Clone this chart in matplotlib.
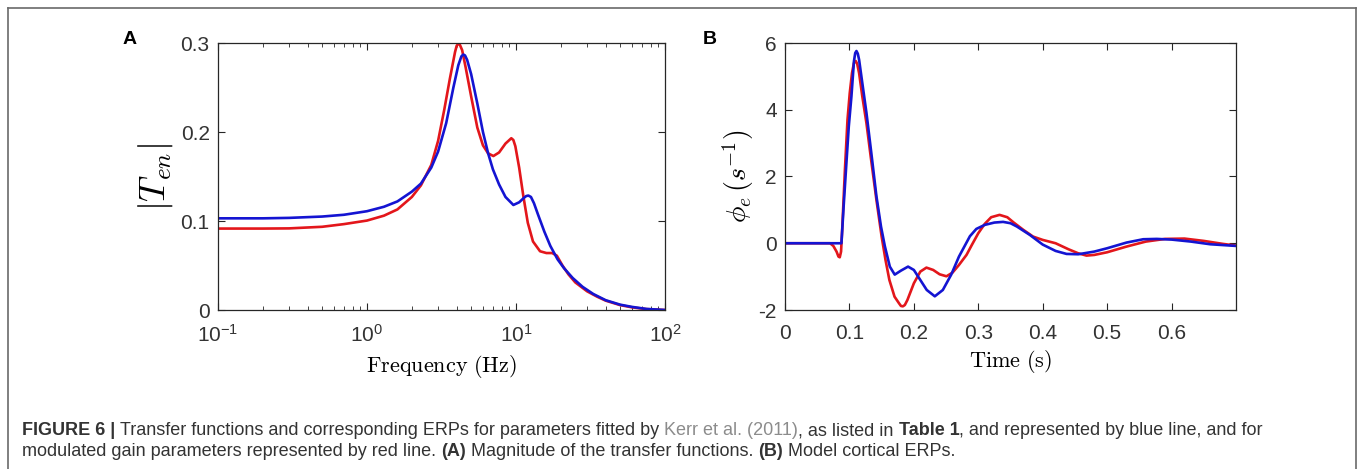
import matplotlib
matplotlib.use("Agg")
import matplotlib.pyplot as plt
from matplotlib.lines import Line2D

plt.rcParams["font.family"] = ["Liberation Sans", "DejaVu Sans"]
plt.rcParams["mathtext.fontset"] = "cm"
plt.rcParams["axes.unicode_minus"] = False

# panel A: magnitude of transfer function |T_en| vs frequency (Hz)
freq_red = [0.1, 0.2, 0.3, 0.5, 0.7, 1.0, 1.3, 1.6, 2.0, 2.3, 2.7, 3.0, 3.3, 3.6, 3.9,
            4.0, 4.1, 4.2, 4.35, 4.6, 5.0, 5.5, 6.0, 6.5, 7.05, 7.7, 8.5, 9.3, 9.6, 9.9,
            10.5, 11.2, 12.0, 13.0, 14.5, 16.0, 17.5, 18.8, 20.5, 22.5, 25, 30, 35, 40,
            50, 60, 75, 100]
mag_red = [0.0915, 0.0915, 0.0917, 0.0935, 0.0965, 0.1005, 0.106, 0.113, 0.127, 0.140,
           0.163, 0.19, 0.225, 0.26, 0.29, 0.297, 0.299, 0.298, 0.292, 0.272, 0.24,
           0.205, 0.185, 0.176, 0.173, 0.177, 0.187, 0.193, 0.191, 0.184, 0.16, 0.128,
           0.098, 0.077, 0.066, 0.064, 0.064, 0.061, 0.05, 0.04, 0.031, 0.021, 0.015,
           0.0105, 0.0055, 0.003, 0.001, 0.0]
freq_blue = [0.1, 0.2, 0.3, 0.5, 0.7, 1.0, 1.3, 1.6, 2.0, 2.3, 2.7, 3.0, 3.4, 3.8, 4.1,
             4.3, 4.43, 4.55, 4.7, 5.0, 5.5, 6.0, 6.5, 7.0, 7.7, 8.5, 9.6, 10.5, 11.3,
             11.7, 12.1, 12.6, 13.2, 14.0, 15.5, 17.0, 19.0, 21.0, 24, 28, 33, 40, 50,
             60, 75, 100]
mag_blue = [0.103, 0.103, 0.1035, 0.105, 0.107, 0.111, 0.116, 0.122, 0.133, 0.142,
            0.16, 0.178, 0.21, 0.25, 0.275, 0.285, 0.287, 0.286, 0.281, 0.265, 0.232,
            0.2, 0.176, 0.158, 0.141, 0.127, 0.118, 0.121, 0.126, 0.128, 0.1286, 0.127,
            0.12, 0.108, 0.088, 0.072, 0.057, 0.047, 0.036, 0.026, 0.018, 0.011, 0.006,
            0.0035, 0.0012, 0.0]

# panel B: model cortical ERPs vs time (s)
t_red = [0, 0.07, 0.075, 0.08, 0.083, 0.085, 0.087, 0.089, 0.093, 0.097, 0.1005, 0.104,
         0.107, 0.1098, 0.112, 0.115, 0.12, 0.1264, 0.133, 0.1419, 0.15, 0.156, 0.162,
         0.17, 0.177, 0.18, 0.183, 0.186, 0.19, 0.2, 0.21, 0.2195, 0.23, 0.24, 0.2506,
         0.26, 0.27, 0.2817, 0.29, 0.30, 0.31, 0.32, 0.333, 0.345, 0.355, 0.37, 0.385,
         0.40, 0.42, 0.44, 0.455, 0.468, 0.48, 0.50, 0.53, 0.56, 0.59, 0.62, 0.65, 0.68,
         0.70]
erp_red = [0, 0, -0.08, -0.25, -0.4, -0.42, -0.25, 0.5, 2.2, 3.7, 4.5, 5.1, 5.4, 5.46,
           5.38, 5.1, 4.4, 3.6, 2.6, 1.3, 0.2, -0.5, -1.1, -1.6, -1.8, -1.88, -1.89,
           -1.85, -1.7, -1.2, -0.85, -0.73, -0.8, -0.93, -0.99, -0.88, -0.65, -0.35,
           -0.05, 0.3, 0.58, 0.78, 0.85, 0.78, 0.62, 0.4, 0.2, 0.1, 0.0, -0.18, -0.3,
           -0.37, -0.35, -0.27, -0.1, 0.05, 0.13, 0.14, 0.07, -0.02, -0.07]
t_blue = [0, 0.0876, 0.091, 0.0953, 0.099, 0.1031, 0.107, 0.109, 0.1109, 0.113, 0.115,
          0.12, 0.1264, 0.134, 0.1419, 0.149, 0.155, 0.1627, 0.1703, 0.18, 0.191, 0.2,
          0.21, 0.22, 0.2325, 0.245, 0.258, 0.27, 0.287, 0.297, 0.31, 0.325, 0.3385,
          0.35, 0.36, 0.38, 0.40, 0.42, 0.437, 0.455, 0.48, 0.50, 0.53, 0.556, 0.577,
          0.60, 0.63, 0.66, 0.70]
erp_blue = [0, 0, 1.1, 2.4, 3.5, 4.4, 5.45, 5.7, 5.76, 5.68, 5.5, 4.8, 3.91, 2.7, 1.41,
            0.5, -0.09, -0.7, -0.94, -0.82, -0.70, -0.8, -1.1, -1.4, -1.59, -1.4, -0.94,
            -0.4, 0.21, 0.43, 0.55, 0.62, 0.64, 0.6, 0.5, 0.25, -0.04, -0.23, -0.32,
            -0.33, -0.25, -0.15, 0.02, 0.12, 0.13, 0.11, 0.05, -0.03, -0.08]

red = "#e3161b"
blue = "#1414d2"
tick_color = "#333333"

W, H = 1358, 469
fig = plt.figure(figsize=(W / 100, H / 100), dpi=100)

def px_axes(left, top, right, bottom):
    return fig.add_axes([left / W, 1 - bottom / H, (right - left) / W, (bottom - top) / H])

def style(ax):
    for s in ax.spines.values():
        s.set_color("#262626")
        s.set_linewidth(0.9)
    ax.tick_params(which="both", direction="in", top=True, right=True,
                   colors="#262626", labelcolor=tick_color, labelsize=15)
    ax.tick_params(axis="y", pad=6)
    ax.tick_params(axis="x", pad=10)
    ax.tick_params(which="major", length=5)
    ax.tick_params(which="minor", length=3)

axA = px_axes(218, 43, 665, 310)
axA.plot(freq_red, mag_red, color=red, lw=1.9)
axA.plot(freq_blue, mag_blue, color=blue, lw=1.9)
axA.set_xscale("log")
axA.set_xlim(0.1, 100)
axA.set_ylim(0, 0.3)
axA.set_yticks([0, 0.1, 0.2, 0.3])
axA.set_yticklabels(["0", "0.1", "0.2", "0.3"])
style(axA)
axA.set_xlabel(r"$\mathrm{Frequency\ (Hz)}$", fontsize=16, labelpad=5)
axA.set_ylabel(r"$|T_{en}|$", fontsize=26, labelpad=4)

axB = px_axes(785, 43, 1236, 310)
axB.plot(t_red, erp_red, color=red, lw=1.9)
axB.plot(t_blue, erp_blue, color=blue, lw=1.9)
axB.set_xlim(0, 0.7)
axB.set_ylim(-2, 6)
axB.set_xticks([0, 0.1, 0.2, 0.3, 0.4, 0.5, 0.6])
axB.set_xticklabels(["0", "0.1", "0.2", "0.3", "0.4", "0.5", "0.6"])
axB.set_yticks([-2, 0, 2, 4, 6])
style(axB)
axB.set_xlabel(r"$\mathrm{Time\ (s)}$", fontsize=16, labelpad=4)
axB.set_ylabel(r"$\phi_e\,(s^{-1})$", fontsize=20, labelpad=2)

# panel letters
fig.text(130 / W, 1 - 40 / H, "A", fontsize=14, fontweight="bold", ha="center", va="center")
fig.text(710 / W, 1 - 40 / H, "B", fontsize=14, fontweight="bold", ha="center", va="center")

# frame around the figure
frame = "#6a6a6a"
fig.add_artist(Line2D([8 / W, 8 / W], [0, 1 - 8 / H], transform=fig.transFigure, color=frame, lw=1.2))
fig.add_artist(Line2D([8 / W, 1356 / W], [1 - 8 / H, 1 - 8 / H], transform=fig.transFigure, color=frame, lw=1.2))
fig.add_artist(Line2D([1356 / W, 1356 / W], [0, 1 - 8 / H], transform=fig.transFigure, color=frame, lw=1.2))

# caption with mixed styles
body = "#333333"
link = "#8c8c8c"
line1 = [("FIGURE 6 | ", "bold", body),
         ("Transfer functions and corresponding ERPs for parameters fitted by ", "normal", body),
         ("Kerr et al. (2011)", "normal", link),
         (", as listed in ", "normal", body),
         ("Table 1", "bold", body),
         (", and represented by blue line, and for", "normal", body)]
line2 = [("modulated gain parameters represented by red line. ", "normal", body),
         ("(A)", "bold", body),
         (" Magnitude of the transfer functions. ", "normal", body),
         ("(B)", "bold", body),
         (" Model cortical ERPs.", "normal", body)]

renderer = fig.canvas.get_renderer()
def caption_line(pieces, x0, y_top):
    x = x0
    for txt, weight, color in pieces:
        t = fig.text(x / W, 1 - y_top / H, txt, fontsize=12.95, fontweight=weight,
                     color=color, va="baseline", ha="left")
        x += t.get_window_extent(renderer).width

caption_line(line1, 22, 435)
caption_line(line2, 22, 456)

fig.savefig("out.png", dpi=100)
